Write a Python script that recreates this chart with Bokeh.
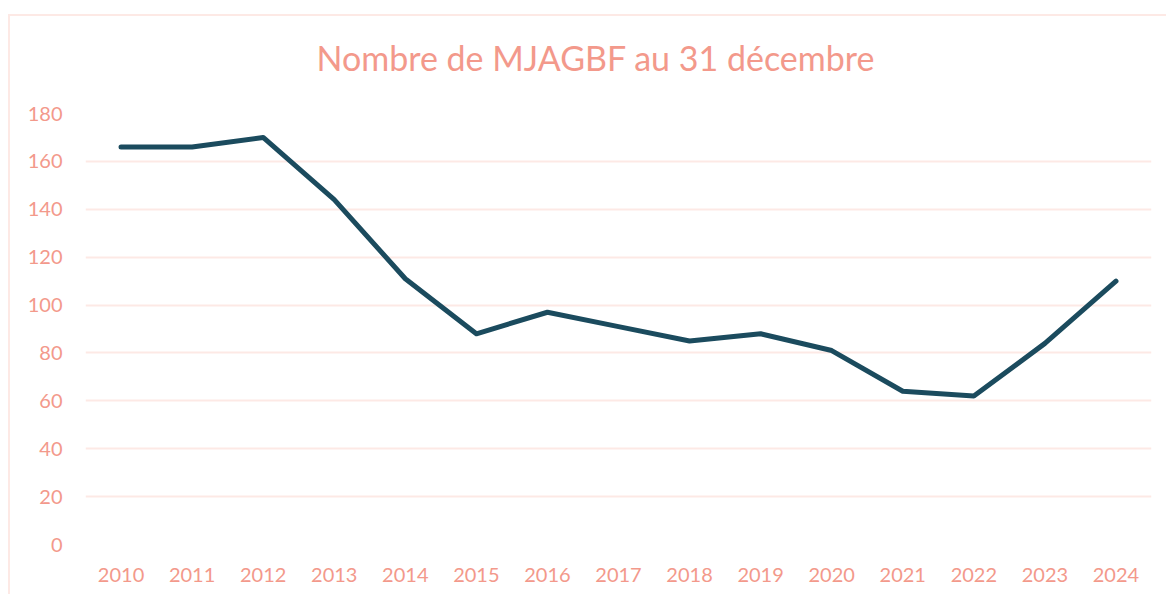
from bokeh.plotting import figure
from bokeh.models import FactorRange, Range1d, FixedTicker, Title
from bokeh.embed import file_html
from bokeh.resources import INLINE

years = ["2010", "2011", "2012", "2013", "2014", "2015", "2016", "2017",
         "2018", "2019", "2020", "2021", "2022", "2023", "2024"]
counts = [166, 166, 170, 144, 111, 88, 97, 91, 85, 88, 81, 64, 62, 84, 110]
y_ticks = [0, 20, 40, 60, 80, 100, 120, 140, 160, 180]
title_text = "Nombre de MJAGBF au 31 décembre"

SALMON = "#F3998B"
GRID = "#FDE9E5"
LINE = "#1B4B5E"
FONT = "Lato"

p = figure(width=1158, height=580, x_range=FactorRange(*years, range_padding=0),
           y_range=Range1d(0, 180), output_backend="svg", toolbar_location=None,
           min_border_left=75, min_border_right=17, min_border_top=97,
           min_border_bottom=52)
p.margin = (14, 0, 0, 8)
p.styles = {"border-left": f"2px solid {GRID}", "border-top": f"2px solid {GRID}"}
p.outline_line_color = None

# blank spacer between plot area and title
p.add_layout(Title(text=" ", text_font_size="2px", standoff=30), "above")
# chart title
p.add_layout(Title(text=title_text, align="left", offset=231,
                   text_font=FONT, text_font_size="34px", text_font_style="normal",
                   text_color=SALMON, standoff=4), "above")

p.line(x=years, y=counts, line_color=LINE, line_width=5, line_join="round",
       line_cap="round")

p.yaxis.ticker = FixedTicker(ticks=y_ticks)
for ax in (p.xaxis, p.yaxis):
    ax.axis_line_color = None
    ax.major_tick_line_color = None
    ax.minor_tick_line_color = None
    ax.major_label_text_color = SALMON
    ax.major_label_text_font = FONT
    ax.major_label_text_font_size = "20px"
p.yaxis.major_label_standoff = 17
p.xaxis.major_label_standoff = 17
p.xgrid.grid_line_color = None
p.ygrid.grid_line_color = GRID
p.ygrid.grid_line_width = 2

open("out.html", "w").write(file_html(p, INLINE))
